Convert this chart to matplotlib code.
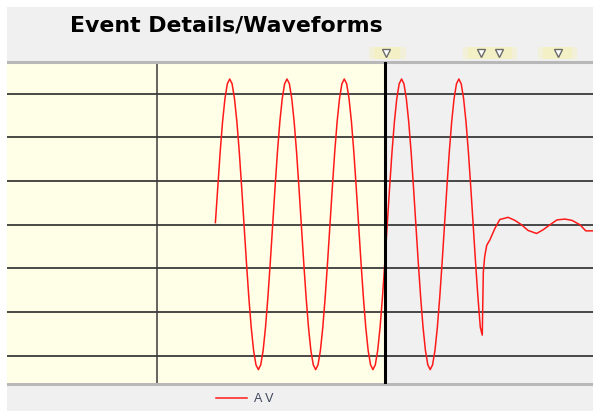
import numpy as np
import matplotlib
matplotlib.use("Agg")
import matplotlib.pyplot as plt
from matplotlib.patches import Rectangle
import matplotlib.transforms as mtrans

plt.rcParams['font.family'] = ['Liberation Sans', 'DejaVu Sans']

# recorded samples before the drop: fixed sample clock (ms), values in grid units
t_start = -49.3
dt = 0.694
v_sine = [0.05, 0.86, 1.67, 2.36, 2.89, 3.23, 3.34, 3.23, 2.89, 2.36, 1.67, 0.86,
          0.00, -0.86, -1.66, -2.35, -2.88, -3.21, -3.32, -3.21, -2.88, -2.35, -1.66, -0.86,
          0.00, 0.86, 1.67, 2.36, 2.89, 3.23, 3.34, 3.23, 2.89, 2.36, 1.67, 0.86,
          0.00, -0.86, -1.66, -2.35, -2.88, -3.21, -3.32, -3.21, -2.88, -2.35, -1.66, -0.86,
          0.00, 0.86, 1.67, 2.36, 2.89, 3.23, 3.34, 3.23, 2.89, 2.36, 1.67, 0.86,
          0.00, -0.86, -1.66, -2.35, -2.88, -3.21, -3.32, -3.21, -2.88, -2.35, -1.66, -0.86,
          0.00, 0.86, 1.67, 2.36, 2.89, 3.23, 3.34, 3.23, 2.89, 2.36, 1.67, 0.86,
          0.00, -0.86, -1.66, -2.35, -2.88, -3.21, -3.32, -3.21, -2.88, -2.35, -1.66, -0.86,
          0.00, 0.86, 1.67, 2.36, 2.89, 3.23, 3.34, 3.23, 2.89, 2.36, 1.67, 0.86,
          0.00, -0.86, -1.66, -2.35]
# drop and ring-down after it
t_tail = [28.30, 28.60, 29.00, 29.60, 30.50, 32.00, 33.40, 35.80, 37.80, 39.70, 41.60,
          44.10, 45.90, 48.00, 50.00, 52.30, 54.40, 56.70, 58.40, 60.50]
v_tail = [-2.53, -1.10, -0.73, -0.47, -0.35, -0.08, 0.12, 0.17, 0.10, 0.00, -0.13,
          -0.20, -0.12, 0.00, 0.11, 0.13, 0.10, 0.00, -0.14, -0.14]
series_label = "A V"

event_marks = [0.3, 27.9, 33.2, 50.2]
event_boxes = [(-4.6, 6.0), (22.7, 38.4), (44.5, 55.8)]

grid_vals = [-3, -2, -1, 0, 1, 2, 3]
t_pre = -66.3
t_trig = 0.0
x_lim = (-109.9, 60.5)
y_lim = (-3.65, 3.73)

t_wave = list(t_start + dt * np.arange(len(v_sine))) + t_tail
v_wave = v_sine + v_tail

fig = plt.figure(figsize=(5.93, 4.11), dpi=100, facecolor='#f0f0f0')
ax = fig.add_axes([7 / 593, 27 / 411, 586 / 593, 322 / 411])
ax.set_facecolor('#f0f0f0')
ax.set_xlim(*x_lim)
ax.set_ylim(*y_lim)

ax.axvspan(x_lim[0], t_trig, color='#fffee6', zorder=0, lw=0)
for g in grid_vals:
    ax.axhline(g, color='#2a2a2a', lw=1.2, zorder=1)
ax.axvline(t_pre, color='#3a3a3a', lw=1.1, zorder=1)

ax.plot(t_wave, v_wave, color='#ff1a1a', lw=1.1, zorder=2, label=series_label)
ax.axvline(t_trig, color='black', lw=2.2, zorder=3)

ax.set_xticks([])
ax.set_yticks([])
for s in ['left', 'right']:
    ax.spines[s].set_visible(False)
for s in ['top', 'bottom']:
    ax.spines[s].set_color('#b8b8b8')
    ax.spines[s].set_linewidth(2.2)

# event markers above the plot
tr = mtrans.blended_transform_factory(ax.transData, ax.transAxes)
for a, b in event_boxes:
    for pad, al in [(0.0, 0.35), (1.5, 0.45)]:
        ax.add_patch(Rectangle((a + pad, 1.01), (b - a) - 2 * pad, 0.038,
                               transform=tr, facecolor='#f6f2b0', alpha=al,
                               lw=0, clip_on=False, zorder=4))
ax.plot(event_marks, [1.029] * len(event_marks), transform=tr, ls='none',
        marker='v', ms=6.0, mfc='white', mec='#6a6a6a', mew=1.0,
        clip_on=False, zorder=5)

fig.text(70 / 593, 1 - 31.5 / 411, "Event Details/Waveforms", fontsize=15.8,
         fontweight='bold', color='black', va='baseline', ha='left',
         family='DejaVu Sans')

leg = ax.legend(loc='center left', bbox_to_anchor=(216 / 593, 1 - 399 / 411),
                bbox_transform=fig.transFigure, frameon=False, fontsize=9,
                handlelength=2.5, handletextpad=0.5, borderpad=0, borderaxespad=0)
for txt in leg.get_texts():
    txt.set_color('#3c465a')

# white margin at top and left
fig.patches.append(Rectangle((0, 0), 7 / 593, 1, transform=fig.transFigure,
                             facecolor='white', lw=0, zorder=10))
fig.patches.append(Rectangle((0, 1 - 7 / 411), 1, 7 / 411, transform=fig.transFigure,
                             facecolor='white', lw=0, zorder=10))

fig.savefig('out.png', dpi=100, facecolor=fig.get_facecolor())
